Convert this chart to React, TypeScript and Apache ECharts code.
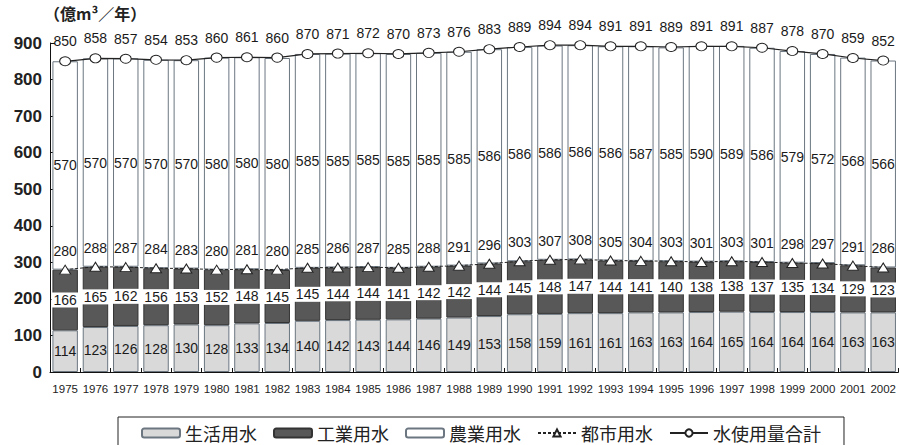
import React, { useEffect, useRef } from "react";
import * as echarts from "echarts";

const years = ["1975","1976","1977","1978","1979","1980","1981","1982","1983","1984","1985","1986","1987","1988","1989","1990","1991","1992","1993","1994","1995","1996","1997","1998","1999","2000","2001","2002"];
const domestic = [114,123,126,128,130,128,133,134,140,142,143,144,146,149,153,158,159,161,161,163,163,164,165,164,164,164,163,163];
const industrial = [166,165,162,156,153,152,148,145,145,144,144,141,142,142,144,145,148,147,144,141,140,138,138,137,135,134,129,123];
const agricultural = [570,570,570,570,570,580,580,580,585,585,585,585,585,585,586,586,586,586,586,587,585,590,589,586,579,572,568,566];
const urban = [280,288,287,284,283,280,281,280,285,286,287,285,288,291,296,303,307,308,305,304,303,301,303,301,298,297,291,286];
const total = [850,858,857,854,853,860,861,860,870,871,872,870,873,876,883,889,894,894,891,891,889,891,891,887,878,870,859,852];

const yMin = 0;
const yMax = 900;
const yStep = 100;

const names = ["生活用水", "工業用水", "農業用水", "都市用水", "水使用量合計"];

const NUM_FONT = "'Liberation Sans', Arial, sans-serif";
const CJK_FONT = "'Noto Sans CJK JP', 'Noto Sans', sans-serif";
const BORDER = "#6b7680";

export default function App() {
  const ref = useRef<HTMLDivElement>(null);
  useEffect(() => {
    if (!ref.current) return;
    const chart = echarts.init(ref.current, null, { renderer: "svg" });
    const barLabel = {
      show: true,
      position: "inside",
      color: "#1a1a1a",
      fontFamily: NUM_FONT,
      fontSize: 14,
    };
    chart.setOption({
      animation: false,
      backgroundColor: "#ffffff",
      grid: { left: 50, right: 0, top: 43, bottom: 73, containLabel: false },
      graphic: [
        {
          type: "text",
          left: 44,
          top: 5,
          style: {
            text: "（億m³／年）",
            fontFamily: CJK_FONT,
            fontSize: 16,
            fontWeight: "bold",
            fill: "#222",
          },
        },
      ],
      legend: {
        data: names,
        left: 118,
        top: 417,
        orient: "horizontal",
        itemWidth: 38,
        itemHeight: 9,
        itemGap: 16,
        padding: [7, 23, 20, 23],
        borderColor: "#222",
        borderWidth: 1,
        textStyle: { fontFamily: CJK_FONT, fontSize: 18, color: "#222" },
      },
      xAxis: {
        type: "category",
        data: years,
        axisLine: { lineStyle: { color: "#111", width: 1 } },
        axisTick: { show: true, inside: true, length: 4, lineStyle: { color: "#111" } },
        axisLabel: {
          interval: 0,
          color: "#222",
          fontFamily: NUM_FONT,
          fontSize: 11.5,
          margin: 11,
        },
      },
      yAxis: {
        type: "value",
        min: yMin,
        max: yMax,
        interval: yStep,
        axisLine: { show: true, lineStyle: { color: "#111", width: 1 } },
        axisTick: { show: true, inside: true, length: 5, lineStyle: { color: "#111" } },
        splitLine: { show: false },
        axisLabel: {
          color: "#222",
          fontFamily: NUM_FONT,
          fontSize: 17,
          fontWeight: "bold",
          margin: 8,
        },
      },
      series: [
        {
          name: names[0],
          type: "bar",
          stack: "water",
          data: domestic,
          barCategoryGap: "16%",
          itemStyle: { color: "#d9d9d9", borderColor: BORDER, borderWidth: 1 },
          label: { ...barLabel },
        },
        {
          name: names[1],
          type: "bar",
          stack: "water",
          data: industrial,
          itemStyle: { color: "#585858", borderColor: "#333", borderWidth: 1 },
          label: {
            ...barLabel,
            backgroundColor: "#ffffff",
            padding: [1, 2, 0, 2],
          },
        },
        {
          name: names[2],
          type: "bar",
          stack: "water",
          data: agricultural,
          itemStyle: { color: "#ffffff", borderColor: BORDER, borderWidth: 1 },
          label: { ...barLabel },
        },
        {
          name: names[3],
          type: "line",
          data: urban,
          z: 5,
          symbol: "triangle",
          symbolSize: [11, 9],
          lineStyle: { color: "#222", width: 1, type: [3, 2] },
          itemStyle: { color: "#ffffff", borderColor: "#222", borderWidth: 1 },
          label: {
            show: true,
            position: "top",
            distance: 7,
            color: "#1a1a1a",
            fontFamily: NUM_FONT,
            fontSize: 14,
          },
        },
        {
          name: names[4],
          type: "line",
          data: total,
          z: 5,
          symbol: "circle",
          symbolSize: [11, 9],
          lineStyle: { color: "#222", width: 1.2 },
          itemStyle: { color: "#ffffff", borderColor: "#222", borderWidth: 1 },
          label: {
            show: true,
            position: "top",
            distance: 8,
            color: "#1a1a1a",
            fontFamily: NUM_FONT,
            fontSize: 14,
          },
        },
      ],
    });
    return () => chart.dispose();
  }, []);
  return (
    <div
      ref={ref}
      style={{ position: "fixed", left: 0, top: 0, width: 899, height: 445 }}
    />
  );
}
